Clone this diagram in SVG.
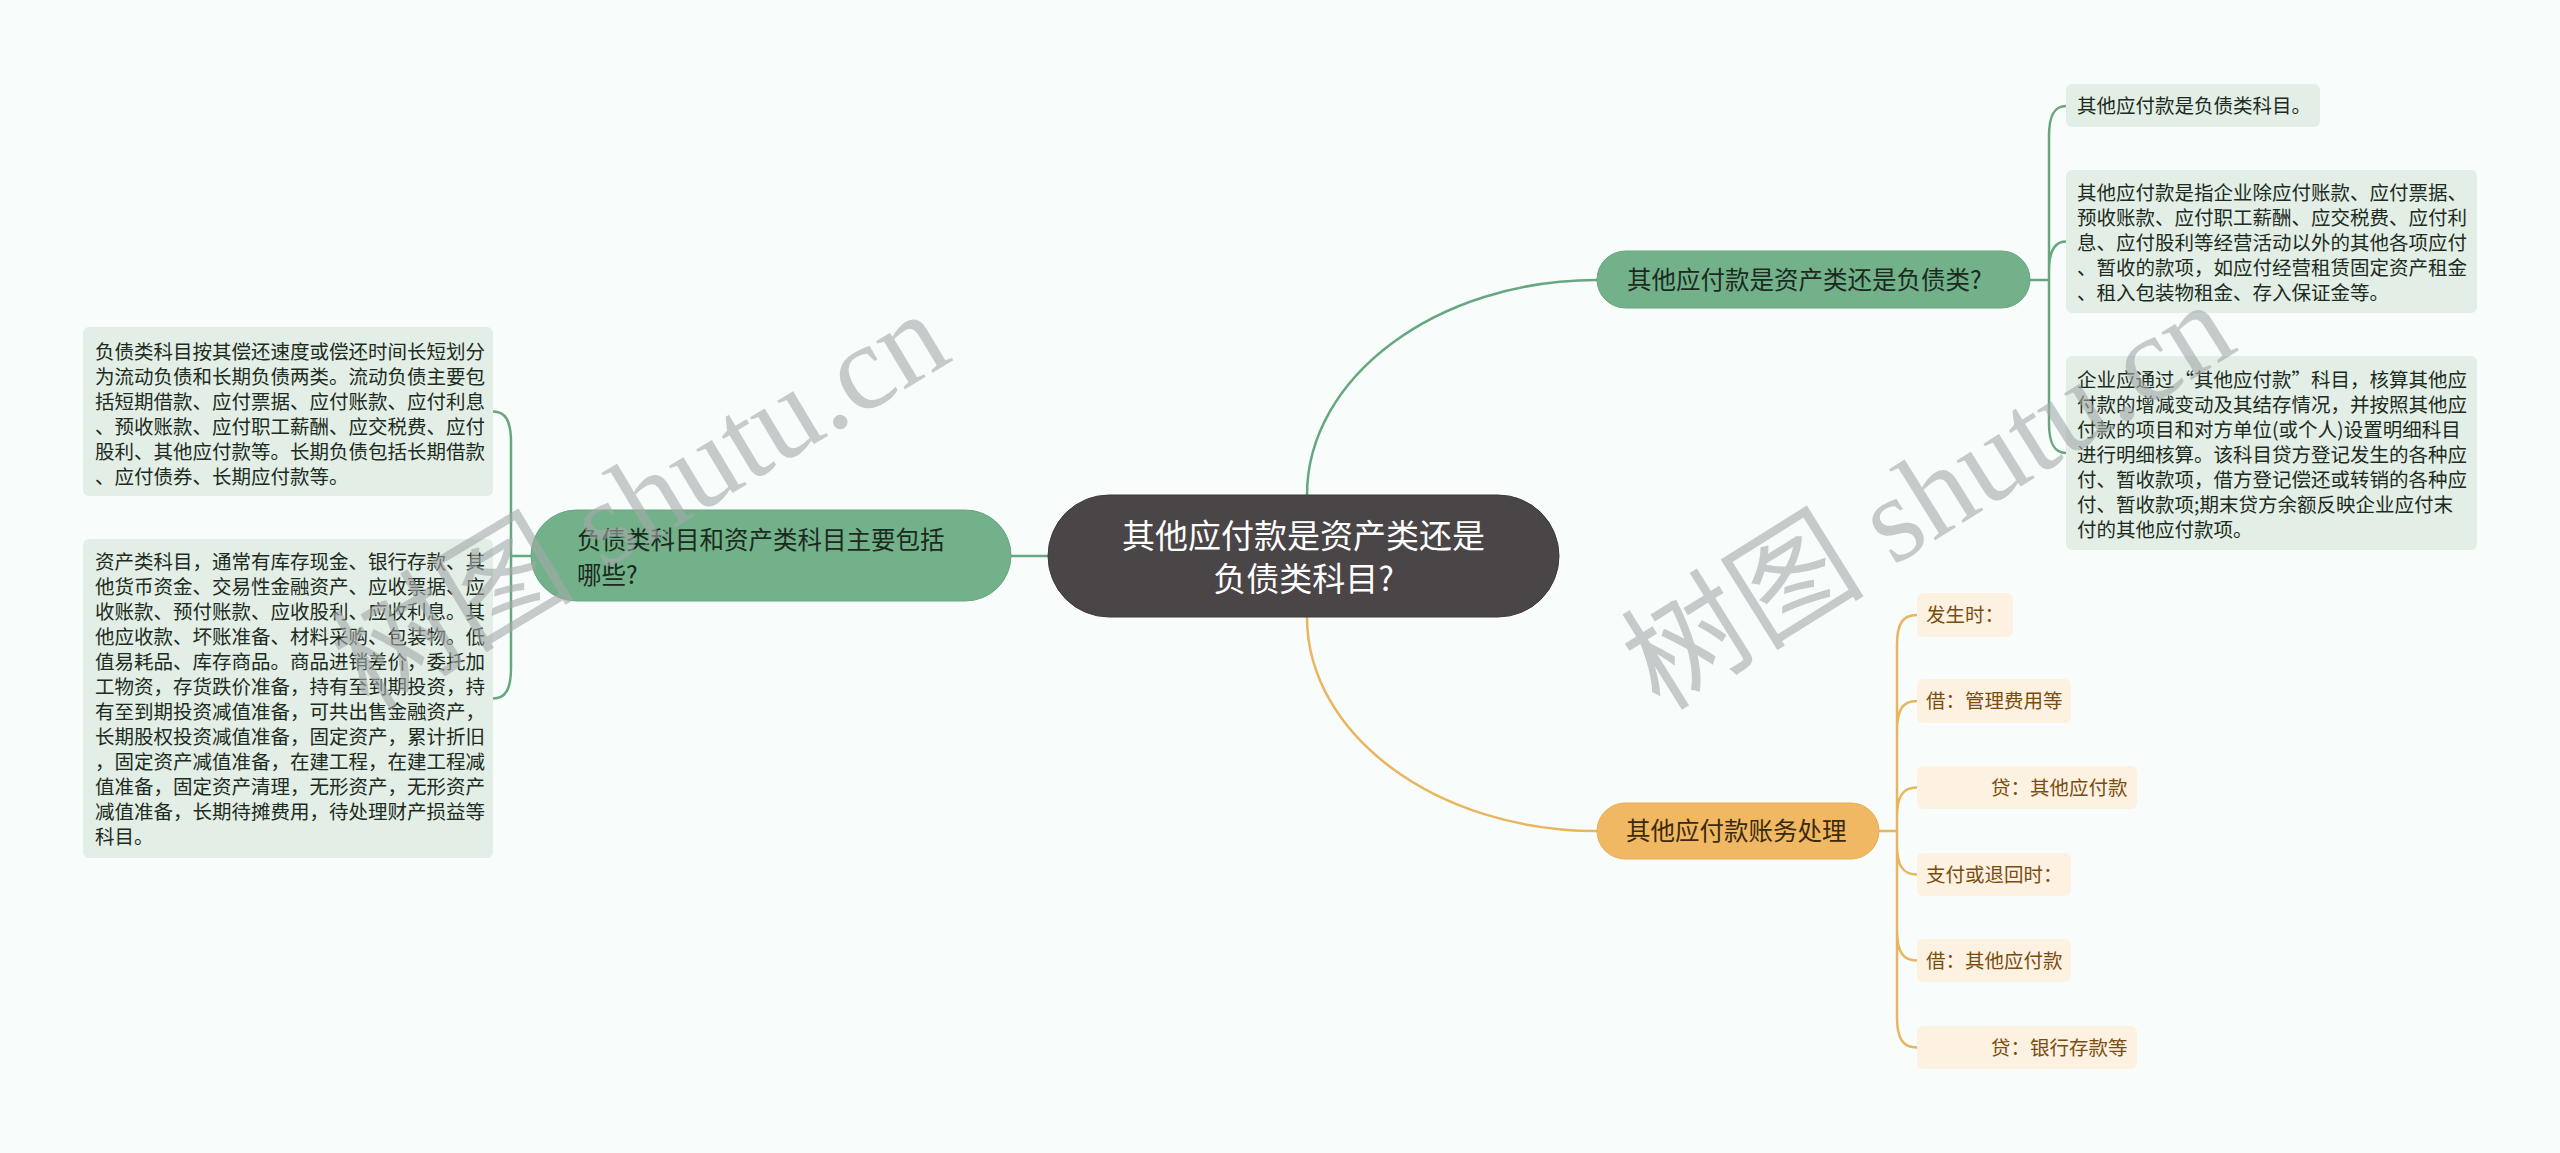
<svg xmlns="http://www.w3.org/2000/svg" width="2560" height="1153" viewBox="0 0 2560 1153">
<style>
.t{font-family:"Noto Sans CJK SC","Liberation Sans",sans-serif}
.root{fill:#4a4546;stroke:#3e3a3b;stroke-width:1}
.rootT{font-size:33px;fill:#ffffff;text-anchor:middle}
.gN{fill:#72b18a;stroke:#67a680;stroke-width:1}
.gT{font-size:24.5px;fill:#1c2a20}
.gL{fill:#e2eee6}
.lT{font-size:19.5px;fill:#1d2b21}
.oN{fill:#f0b862;stroke:#e8ae55;stroke-width:1}
.oT{font-size:24.5px;fill:#3b2a0e}
.oL{fill:#fdf1e2}
.oLT{font-size:19.5px;fill:#7a4d0e}
.cg{fill:none;stroke:#66a77f;stroke-width:2.5}
.co{fill:none;stroke:#e9b55e;stroke-width:2.5}
.wm{font-family:"Liberation Serif","Noto Sans CJK SC",serif;font-size:122px;fill:#a4a9a9;opacity:0.6}
</style>
<rect x="0" y="0" width="2560" height="1153" fill="#f8fdfc"/>
<g id="connectors">
<path class="cg" d="M1307,495 C1307,377 1437,280 1597,280"/>
<path class="co" d="M1307,617 C1307,735 1437,831 1597,831"/>
<path class="cg" d="M1048,556 L1011,556"/>
<path class="cg" d="M531,556 L511,556 M511,556 L511,442 C511,420 505,411.5 493,411.5 M511,556 L511,668 C511,690 505,698.5 493,698.5"/>
<path class="cg" d="M2030,280 L2049,280 M2049,280 L2049,136 C2049,114 2055,106 2066,106 M2049,280 L2049,271 C2049,250 2055,241.5 2066,241.5 M2049,280 L2049,423 C2049,445 2055,453 2066,453"/>
<path class="co" d="M1879,831 L1897,831 M1897,831 L1897,645 C1897,623 1903,615 1917,615 M1897,831 L1897,731 C1897,709 1903,701 1917,701 M1897,831 L1897,817 C1897,796 1903,787.5 1917,787.5 M1897,831 L1897,845 C1897,866 1903,874.5 1917,874.5 M1897,831 L1897,930 C1897,952 1903,960.5 1917,960.5 M1897,831 L1897,1017 C1897,1039 1903,1047.5 1917,1047.5"/>
</g>
<g id="root">
<rect class="root" x="1048" y="495" width="511" height="122" rx="61"/>
<text class="t rootT" x="1303.5" y="548">其他应付款是资产类还是</text>
<text class="t rootT" x="1303.5" y="591">负债类科目?</text>
</g>
<g id="n-right-green">
<rect class="gN" x="1597" y="251" width="433" height="57" rx="28.5"/>
<text class="t gT" x="1627" y="289">其他应付款是资产类还是负债类?</text>
</g>
<g id="leaf-r1">
<rect class="gL" x="2066" y="84" width="254" height="43" rx="6"/>
<text class="t lT" x="2077" y="113">其他应付款是负债类科目。</text>
</g>
<g id="leaf-r2">
<rect class="gL" x="2066" y="170" width="411" height="143" rx="6"/>
<text class="t lT" x="2077" y="200">其他应付款是指企业除应付账款、应付票据、</text>
<text class="t lT" x="2077" y="225">预收账款、应付职工薪酬、应交税费、应付利</text>
<text class="t lT" x="2077" y="250">息、应付股利等经营活动以外的其他各项应付</text>
<text class="t lT" x="2077" y="275">、暂收的款项，如应付经营租赁固定资产租金</text>
<text class="t lT" x="2077" y="300">、租入包装物租金、存入保证金等。</text>
</g>
<g id="leaf-r3">
<rect class="gL" x="2066" y="356" width="411" height="194" rx="6"/>
<text class="t lT" x="2077" y="387">企业应通过“其他应付款”科目，核算其他应</text>
<text class="t lT" x="2077" y="412">付款的增减变动及其结存情况，并按照其他应</text>
<text class="t lT" x="2077" y="437">付款的项目和对方单位(或个人)设置明细科目</text>
<text class="t lT" x="2077" y="462">进行明细核算。该科目贷方登记发生的各种应</text>
<text class="t lT" x="2077" y="487">付、暂收款项，借方登记偿还或转销的各种应</text>
<text class="t lT" x="2077" y="512">付、暂收款项;期末贷方余额反映企业应付末</text>
<text class="t lT" x="2077" y="537">付的其他应付款项。</text>
</g>
<g id="n-left-green">
<rect class="gN" x="531" y="510" width="480" height="91" rx="45.5"/>
<text class="t gT" x="577" y="549">负债类科目和资产类科目主要包括</text>
<text class="t gT" x="577" y="584">哪些?</text>
</g>
<g id="leaf-l1">
<rect class="gL" x="83" y="327" width="410" height="169" rx="6"/>
<text class="t lT" x="95" y="359">负债类科目按其偿还速度或偿还时间长短划分</text>
<text class="t lT" x="95" y="384">为流动负债和长期负债两类。流动负债主要包</text>
<text class="t lT" x="95" y="409">括短期借款、应付票据、应付账款、应付利息</text>
<text class="t lT" x="95" y="434">、预收账款、应付职工薪酬、应交税费、应付</text>
<text class="t lT" x="95" y="459">股利、其他应付款等。长期负债包括长期借款</text>
<text class="t lT" x="95" y="484">、应付债券、长期应付款等。</text>
</g>
<g id="leaf-l2">
<rect class="gL" x="83" y="539" width="410" height="319" rx="6"/>
<text class="t lT" x="95" y="569">资产类科目，通常有库存现金、银行存款、其</text>
<text class="t lT" x="95" y="594">他货币资金、交易性金融资产、应收票据、应</text>
<text class="t lT" x="95" y="619">收账款、预付账款、应收股利、应收利息。其</text>
<text class="t lT" x="95" y="644">他应收款、坏账准备、材料采购、包装物。低</text>
<text class="t lT" x="95" y="669">值易耗品、库存商品。商品进销差价，委托加</text>
<text class="t lT" x="95" y="694">工物资，存货跌价准备，持有至到期投资，持</text>
<text class="t lT" x="95" y="719">有至到期投资减值准备，可共出售金融资产，</text>
<text class="t lT" x="95" y="744">长期股权投资减值准备，固定资产，累计折旧</text>
<text class="t lT" x="95" y="769">，固定资产减值准备，在建工程，在建工程减</text>
<text class="t lT" x="95" y="794">值准备，固定资产清理，无形资产，无形资产</text>
<text class="t lT" x="95" y="819">减值准备，长期待摊费用，待处理财产损益等</text>
<text class="t lT" x="95" y="844">科目。</text>
</g>
<g id="n-orange">
<rect class="oN" x="1597" y="803" width="282" height="56" rx="28"/>
<text class="t oT" x="1626" y="840">其他应付款账务处理</text>
</g>
<g id="leaf-o1">
<rect class="oL" x="1917" y="593" width="96" height="44" rx="6"/>
<text class="t oLT" x="1926" y="622">发生时：</text>
</g>
<g id="leaf-o2">
<rect class="oL" x="1917" y="679" width="154" height="44" rx="6"/>
<text class="t oLT" x="1926" y="708">借：管理费用等</text>
</g>
<g id="leaf-o3">
<rect class="oL" x="1917" y="766" width="220" height="43" rx="6"/>
<text class="t oLT" x="1991" y="795">贷：其他应付款</text>
</g>
<g id="leaf-o4">
<rect class="oL" x="1917" y="853" width="154" height="43" rx="6"/>
<text class="t oLT" x="1926" y="882">支付或退回时：</text>
</g>
<g id="leaf-o5">
<rect class="oL" x="1917" y="939" width="154" height="43" rx="6"/>
<text class="t oLT" x="1926" y="968">借：其他应付款</text>
</g>
<g id="leaf-o6">
<rect class="oL" x="1917" y="1026" width="220" height="43" rx="6"/>
<text class="t oLT" x="1991" y="1055">贷：银行存款等</text>
</g>
<g id="watermarks">
<text class="wm" transform="translate(368,712) rotate(-31)">树图 shutu.cn</text>
<text class="wm" transform="translate(1660,712) rotate(-32)">树图 shutu.cn</text>
</g>
</svg>
